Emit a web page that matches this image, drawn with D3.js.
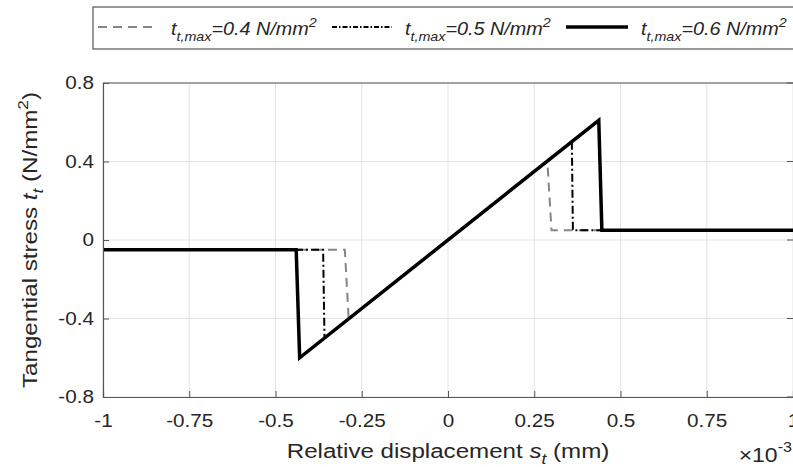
<!DOCTYPE html>
<html>
<head>
<meta charset="utf-8">
<script src="https://cdn.jsdelivr.net/npm/d3@7"></script>
<style>
  body { margin: 0; background: #fff; }
  text { font-family: "Liberation Sans", Arial, sans-serif; fill: #262626; }
</style>
</head>
<body>
<script>
// relative displacement in units of 1e-3 mm, stress in N/mm2
const x04 = [-1, -0.299, -0.288, 0.288, 0.300, 1];
const y04 = [-0.05, -0.05, -0.40, 0.40, 0.05, 0.05];
const x05 = [-1, -0.362, -0.358, 0.359, 0.362, 1];
const y05 = [-0.05, -0.05, -0.50, 0.50, 0.05, 0.05];
const x06 = [-1, -0.44, -0.43, 0.437, 0.446, 1];
const y06 = [-0.05, -0.05, -0.60, 0.61, 0.05, 0.05];
const legendValues = ["0.4", "0.5", "0.6"];
const xTicks = [-1, -0.75, -0.5, -0.25, 0, 0.25, 0.5, 0.75, 1];
const xTickLabels = ["-1", "-0.75", "-0.5", "-0.25", "0", "0.25", "0.5", "0.75", "1"];
const yTicks = [-0.8, -0.4, 0, 0.4, 0.8];
const yTickLabels = ["-0.8", "-0.4", "0", "0.4", "0.8"];

const width = 793, height = 467;
const margin = {top: 83, right: 0, bottom: 70, left: 103};
const stretch = 1.15; // the source figure's text is a bit wide

const svg = d3.select("body").append("svg")
  .attr("width", width).attr("height", height);

const x = d3.scaleLinear().domain([-1, 1]).range([margin.left, width - margin.right]);
const y = d3.scaleLinear().domain([-0.8, 0.8]).range([height - margin.bottom, margin.top]);

// grid
svg.append("g").selectAll("line").data(xTicks).join("line")
  .attr("x1", d => x(d)).attr("x2", d => x(d))
  .attr("y1", y(0.8)).attr("y2", y(-0.8))
  .attr("stroke", "#e3e3e3").attr("stroke-width", 1);
svg.append("g").selectAll("line").data(yTicks).join("line")
  .attr("x1", x(-1)).attr("x2", x(1))
  .attr("y1", d => y(d)).attr("y2", d => y(d))
  .attr("stroke", "#e3e3e3").attr("stroke-width", 1);

// series
const series = [
  {xs: x04, ys: y04, color: "#858585", w: 2, dash: "9,6"},
  {xs: x05, ys: y05, color: "#000", w: 2, dash: "8,3,2,3"},
  {xs: x06, ys: y06, color: "#000", w: 3.5, dash: null}
];
const line = d3.line().x(d => x(d[0])).y(d => y(d[1]));
svg.append("g").selectAll("path").data(series).join("path")
  .attr("d", s => line(d3.zip(s.xs, s.ys)))
  .attr("fill", "none")
  .attr("stroke", s => s.color)
  .attr("stroke-width", s => s.w)
  .attr("stroke-dasharray", s => s.dash)
  .attr("stroke-linejoin", "miter");

// axes (ticks inside, MATLAB style)
const xAxis = svg.append("g")
  .attr("transform", `translate(0,${y(-0.8)})`)
  .call(d3.axisBottom(x).tickValues(xTicks).tickSize(-6).tickPadding(17)
    .tickFormat((d, i) => xTickLabels[i]));
const yAxis = svg.append("g")
  .attr("transform", `translate(${x(-1)},0)`)
  .call(d3.axisLeft(y).tickValues(yTicks).tickSize(-6).tickPadding(9)
    .tickFormat((d, i) => yTickLabels[i]));
[xAxis, yAxis].forEach(g => {
  g.select(".domain").attr("stroke", "#555").attr("stroke-width", 1.2);
  g.selectAll(".tick line").attr("stroke", "#555");
  g.selectAll(".tick text").attr("font-size", 18).attr("fill", "#262626")
    .attr("font-family", "Liberation Sans, Arial, sans-serif");
});
yAxis.selectAll(".tick text").attr("x", 0)
  .attr("transform", `translate(-9,0) scale(${stretch},1)`);
xAxis.selectAll(".tick text").attr("transform", `scale(${stretch},1)`);

// box top and right
svg.append("line").attr("x1", x(-1)).attr("x2", x(1)).attr("y1", y(0.8)).attr("y2", y(0.8))
  .attr("stroke", "#555").attr("stroke-width", 1.2);
svg.append("g").selectAll("line").data(yTicks).join("line")
  .attr("x1", x(1)).attr("x2", x(1) - 6).attr("y1", d => y(d)).attr("y2", d => y(d))
  .attr("stroke", "#555");

// axis labels
const xl = svg.append("text")
  .attr("transform", `translate(${x(0)},458) scale(${stretch},1)`)
  .attr("text-anchor", "middle").attr("font-size", 21);
xl.append("tspan").text("Relative displacement  ");
xl.append("tspan").attr("font-style", "italic").text("s");
xl.append("tspan").attr("font-style", "italic").attr("font-size", 15).attr("dy", 6).text("t");
xl.append("tspan").attr("dy", -6).text(" (mm)");

const ex = svg.append("text")
  .attr("transform", `translate(792,462) scale(${stretch},1)`)
  .attr("text-anchor", "end").attr("font-size", 20);
ex.append("tspan").text("\u00d710");
ex.append("tspan").attr("font-size", 14).attr("dy", -10).text("-3");

const yl = svg.append("text")
  .attr("transform", `translate(37,${y(0)}) rotate(-90) scale(${stretch},1)`)
  .attr("text-anchor", "middle").attr("font-size", 21);
yl.append("tspan").text("Tangential stress  ");
yl.append("tspan").attr("font-style", "italic").text("t");
yl.append("tspan").attr("font-style", "italic").attr("font-size", 15).attr("dy", 6).text("t");
yl.append("tspan").attr("dy", -6).text(" (N/mm");
yl.append("tspan").attr("font-size", 15).attr("dy", -9).text("2");
yl.append("tspan").attr("dy", 9).text(")");

// legend
const legend = svg.append("g");
legend.append("rect").attr("x", 93).attr("y", 7).attr("width", 720).attr("height", 42)
  .attr("fill", "#fff").attr("stroke", "#555").attr("stroke-width", 1.2);
const legX = [98, 332, 566];
const item = legend.selectAll("g.item").data(series).join("g")
  .attr("class", "item")
  .attr("transform", (d, i) => `translate(${legX[i]},0)`);
item.append("line").attr("x1", 0).attr("x2", (d, i) => i === 2 ? 62 : 60)
  .attr("y1", 27).attr("y2", 27)
  .attr("stroke", s => s.color).attr("stroke-width", s => s.w)
  .attr("stroke-dasharray", (s, i) => i === 1 ? "5,2,1.5,2" : s.dash);
const lt = item.append("text")
  .attr("transform", (d, i) => `translate(${i === 2 ? 75 : 73},35) scale(1.1,1)`)
  .attr("font-size", 18).attr("font-style", "italic");
lt.append("tspan").text("t");
lt.append("tspan").attr("font-size", 13).attr("dy", 6).text("t,max");
lt.append("tspan").attr("dy", -6).text((d, i) => `=${legendValues[i]} N/mm`);
lt.append("tspan").attr("font-size", 13).attr("dy", -8).text("2");
</script>
</body>
</html>
